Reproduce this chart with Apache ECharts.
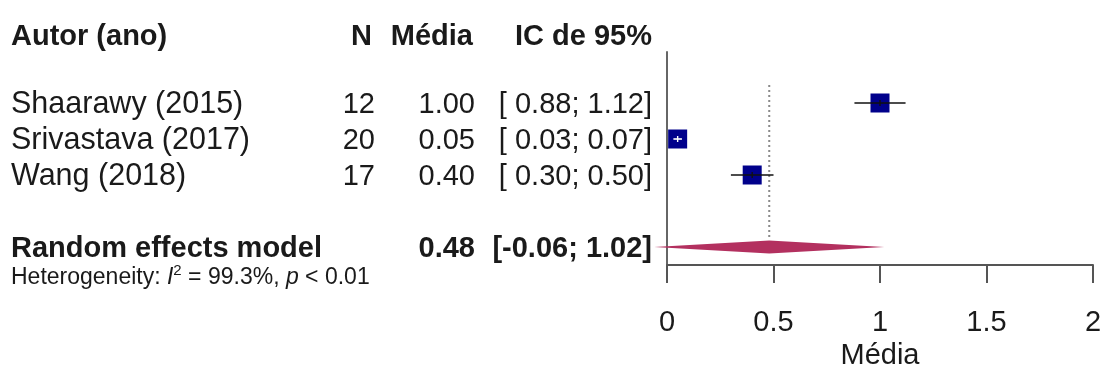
<!DOCTYPE html>
<html>
<head>
<meta charset="utf-8">
<script src="https://cdn.jsdelivr.net/npm/echarts@6/dist/echarts.min.js"></script>
<style>
  html, body { margin: 0; padding: 0; background: #fff; }
  #chart { width: 1100px; height: 368px; }
</style>
</head>
<body>
<div id="chart"></div>
<script>
// Study-level results
const authors = ['Shaarawy (2015)', 'Srivastava (2017)', 'Wang (2018)'];
const sampleSizes = [12, 20, 17];
const means = [1.00, 0.05, 0.40];
const ciLower = [0.88, 0.03, 0.30];
const ciUpper = [1.12, 0.07, 0.50];
const studyRows = [1, 2, 3];

// Pooled estimate
const pooledLabel = 'Random effects model';
const pooledMean = 0.48;
const pooledLower = -0.06;
const pooledUpper = 1.02;
const pooledRow = 5;

// Heterogeneity summary
const heterogeneityI2 = '99.3%';
const heterogeneityP = '< 0.01';

// Headers and axis
const headers = ['Autor (ano)', 'N', 'Média', 'IC de 95%'];
const xTicks = [0, 0.5, 1, 1.5, 2];
const xAxisTitle = 'Média';

const headerRow = -0.88;
const heterogeneityRow = 5.8;

const FONT = '"Liberation Sans", Arial, Helvetica, sans-serif';
const TEXT = '#1a1a1a';
const TEXT_SHIFT = 2; // baseline nudge for table text
const fmt = v => v.toFixed(2);
const fmtCI = (lo, hi) => '[' + (lo < 0 ? '' : ' ') + fmt(lo) + '; ' + fmt(hi) + ']';

// Table text: each line lists its row and cells (column x / alignment are layout)
const COL = { author: 11, n: 375, mean: 475, ci: 652 };
const tableLines = [];
tableLines.push({ row: headerRow, bold: true, size: 29, cells: [
  { text: headers[0], x: COL.author, align: 'left' },
  { text: headers[1], x: COL.n - 3, align: 'right' },
  { text: headers[2], x: COL.mean - 2, align: 'right' },
  { text: headers[3], x: COL.ci, align: 'right' }
]});
authors.forEach((a, i) => {
  tableLines.push({ row: studyRows[i], bold: false, size: 29, cells: [
    { text: a, x: COL.author, align: 'left', size: 30.5 },
    { text: String(sampleSizes[i]), x: COL.n, align: 'right' },
    { text: fmt(means[i]), x: COL.mean, align: 'right' },
    { text: fmtCI(ciLower[i], ciUpper[i]), x: COL.ci, align: 'right' }
  ]});
});
tableLines.push({ row: pooledRow, bold: true, size: 29, cells: [
  { text: pooledLabel, x: COL.author, align: 'left' },
  { text: fmt(pooledMean), x: COL.mean, align: 'right' },
  { text: fmtCI(pooledLower, pooledUpper), x: COL.ci, align: 'right' }
]});
tableLines.push({ row: heterogeneityRow, bold: false, size: 23, rich: true, cells: [
  { text: 'Heterogeneity: {i|I}{s|2} = ' + heterogeneityI2 + ', {i|p} ' + heterogeneityP, x: COL.author, align: 'left' }
]});

const chart = echarts.init(document.getElementById('chart'), null, { renderer: 'canvas' });

const studyData = means.map((m, i) => [m, studyRows[i], ciLower[i], ciUpper[i]]);
const SQUARE = 19;

chart.setOption({
  animation: false,
  backgroundColor: '#fff',
  grid: { left: 667, right: 7, top: 52, bottom: 103, containLabel: false, outerBoundsMode: 'none' },
  xAxis: {
    type: 'value', min: xTicks[0], max: xTicks[xTicks.length - 1], interval: 0.5,
    axisLine: { show: true, onZero: false, lineStyle: { color: '#555', width: 2 } },
    axisTick: { show: true, length: 18, lineStyle: { color: '#555', width: 2 } },
    axisLabel: { fontSize: 29, color: TEXT, fontFamily: FONT, margin: 43,
      formatter: v => String(v) },
    splitLine: { show: false },
    name: xAxisTitle, nameLocation: 'middle', nameGap: 75,
    nameTextStyle: { fontSize: 29, color: TEXT, fontFamily: FONT }
  },
  yAxis: {
    type: 'value', inverse: true, min: -0.41667, max: 5.5,
    axisLine: { show: true, lineStyle: { color: '#666', width: 2 } },
    axisTick: { show: false }, axisLabel: { show: false }, splitLine: { show: false }
  },
  series: [
    // dotted line at pooled estimate
    {
      type: 'custom', z: 1, silent: true,
      data: [[pooledMean, 0.5, pooledRow]],
      renderItem: (params, api) => {
        const top = api.coord([api.value(0), api.value(1)]);
        const bot = api.coord([api.value(0), api.value(2)]);
        return { type: 'line', shape: { x1: top[0], y1: top[1], x2: bot[0], y2: bot[1] - 7 },
          style: { stroke: '#8a8a8a', lineWidth: 2, lineDash: [2, 3] } };
      }
    },
    // study squares
    {
      type: 'scatter', z: 3, silent: true,
      data: studyData.map(d => [d[0], d[1]]),
      symbol: 'rect', symbolSize: SQUARE,
      itemStyle: { color: '#00008b', opacity: 1 }
    },
    // confidence intervals
    {
      type: 'custom', z: 4, silent: true,
      data: studyData,
      renderItem: (params, api) => {
        const row = api.value(1);
        const lo = api.coord([api.value(2), row]);
        const hi = api.coord([api.value(3), row]);
        const mid = api.coord([api.value(0), row]);
        const inside = (hi[0] - lo[0]) < SQUARE;
        const col = inside ? '#ffffff' : '#111111';
        return { type: 'group', children: [
          { type: 'line', shape: { x1: lo[0], y1: lo[1], x2: hi[0], y2: hi[1] },
            style: { stroke: col, lineWidth: 1.6 } },
          { type: 'line', shape: { x1: mid[0], y1: mid[1] - 3, x2: mid[0], y2: mid[1] + 3 },
            style: { stroke: col, lineWidth: 1.4 } }
        ]};
      }
    },
    // pooled diamond
    {
      type: 'custom', z: 3, silent: true, clip: false,
      data: [[pooledMean, pooledRow, pooledLower, pooledUpper]],
      renderItem: (params, api) => {
        const row = api.value(1);
        const c = api.coord([api.value(0), row]);
        const l = api.coord([api.value(2), row]);
        const r = api.coord([api.value(3), row]);
        const h = 6.5;
        return { type: 'polygon',
          shape: { points: [[l[0], l[1]], [c[0], c[1] - h], [r[0], r[1]], [c[0], c[1] + h]] },
          style: { fill: '#b3305f' } };
      }
    },
    // table text
    {
      type: 'custom', z: 5, silent: true, clip: false,
      data: tableLines.map(t => [0, t.row]),
      renderItem: (params, api) => {
        const line = tableLines[params.dataIndex];
        const y = api.coord([0, api.value(1)])[1] + TEXT_SHIFT;
        return { type: 'group', children: line.cells.map(c => {
          const style = {
            text: c.text, x: c.x, y: y, align: c.align, verticalAlign: 'middle',
            fill: TEXT, fontSize: c.size || line.size, fontFamily: FONT,
            fontWeight: line.bold ? 'bold' : 'normal'
          };
          if (line.rich) {
            style.rich = {
              i: { fontStyle: 'italic', fontSize: line.size, fontFamily: FONT, fill: TEXT },
              s: { fontSize: 15, fontFamily: FONT, fill: TEXT, padding: [0, 0, 13, 0] }
            };
          }
          return { type: 'text', style };
        })};
      }
    }
  ]
});
</script>
</body>
</html>
